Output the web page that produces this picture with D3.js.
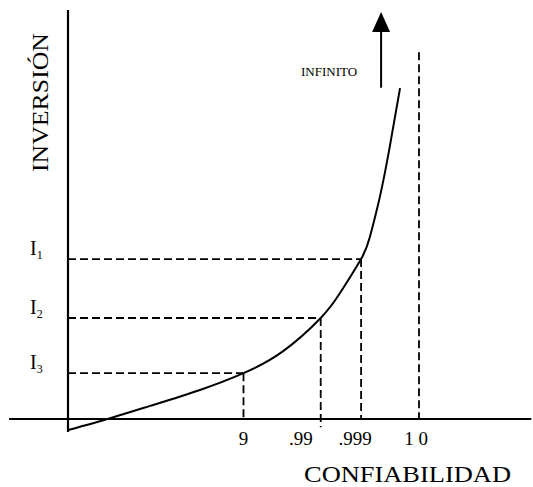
<!DOCTYPE html>
<html>
<head>
<meta charset="utf-8">
<script src="https://cdn.jsdelivr.net/npm/d3@7"></script>
<style>
  html, body { margin: 0; padding: 0; background: #fff; }
  svg { display: block; }
  text { font-family: "Liberation Serif", "Times New Roman", serif; fill: #000; }
</style>
</head>
<body>
<svg id="chart" width="533" height="487"></svg>
<script>
// ---- data ----
const confPos    = [0.5, 0.72, 0.835, 1.0];          // reliability marks along the x axis
const confLabels = ["9", ".99", ".999", "1 0"];
const invValues  = [39.1, 24.7, 11.2];               // I1, I2, I3
const invSubs    = ["1", "2", "3"];
const invConf    = [0.835, 0.72, 0.5];               // reliability reached by each investment
const curveConf  = [0, 0.12, 0.234, 0.376, 0.5, 0.613, 0.72, 0.775, 0.835, 0.86, 0.889, 0.917, 0.946];
const curveInv   = [-2.7, 0.2, 3.2, 7.1, 11.2, 16.6, 24.7, 30.8, 39.1, 44.5, 54.5, 66.7, 80.9];
const arrowConf  = 0.892;
const arrowInv   = [81, 99.5];
const limitInv   = 89.7;   // top of the dashed line at 1.0

// ---- layout ----
const svg = d3.select("#chart");
const x = d3.scaleLinear().domain([0, 1]).range([68, 419]);
const y = d3.scaleLinear().domain([0, 100]).range([419, 10]);
const dash = "8,4";

// axes
svg.append("line").attr("x1", x(-0.168)).attr("x2", x(1.32)).attr("y1", y(0)).attr("y2", y(0))
  .attr("stroke", "#000").attr("stroke-width", 2);
svg.append("line").attr("x1", x(0)).attr("x2", x(0)).attr("y1", y(100)).attr("y2", y(-3.2))
  .attr("stroke", "#000").attr("stroke-width", 2.2);

// dashed guides
const g = svg.append("g").attr("stroke", "#000").attr("stroke-width", 1.8).attr("stroke-dasharray", dash).attr("fill", "none");
invValues.forEach((v, i) => {
  g.append("line").attr("x1", x(0)).attr("x2", x(invConf[i])).attr("y1", y(v)).attr("y2", y(v));
  g.append("line").attr("x1", x(invConf[i])).attr("x2", x(invConf[i])).attr("y1", y(v)).attr("y2", y(i === 1 ? -2 : 0));
});
g.append("line").attr("x1", x(1)).attr("x2", x(1)).attr("y1", y(limitInv)).attr("y2", y(0));

// curve
const pts = curveConf.map((c, i) => [c, curveInv[i]]);
svg.append("path")
  .attr("d", d3.line().x(d => x(d[0])).y(d => y(d[1])).curve(d3.curveNatural)(pts))
  .attr("fill", "none").attr("stroke", "#000").attr("stroke-width", 2);

// arrow
const ax = x(arrowConf);
const headBase = y(arrowInv[1]) + 20;
svg.append("line").attr("x1", ax).attr("x2", ax).attr("y1", y(arrowInv[0])).attr("y2", headBase)
  .attr("stroke", "#000").attr("stroke-width", 2);
svg.append("path")
  .attr("d", `M${ax},${y(arrowInv[1])} L${ax - 9},${headBase} L${ax + 9},${headBase} Z`)
  .attr("fill", "#000");

svg.append("text").attr("x", ax - 24).attr("y", 76).attr("text-anchor", "end")
  .attr("font-size", 13)
  .text("INFINITO");

// x tick labels
const tickDx = [0, -8, -6, -3];
const tickAnchor = ["middle", "end", "middle", "middle"];
confPos.forEach((p, i) => {
  svg.append("text").attr("x", x(p) + tickDx[i]).attr("y", 445)
    .attr("text-anchor", tickAnchor[i]).attr("font-size", 19).text(confLabels[i]);
});

// I labels
invValues.forEach((v, i) => {
  const t = svg.append("text").attr("x", 30).attr("y", y(v) - 4).attr("font-size", 20);
  t.append("tspan").text("I");
  t.append("tspan").attr("font-size", 12).attr("dy", 4).text(invSubs[i]);
});

// axis titles
svg.append("text").attr("transform", "translate(48,102.5) rotate(-90)")
  .attr("text-anchor", "middle").attr("font-size", 23)
  .attr("textLength", 139).attr("lengthAdjust", "spacingAndGlyphs").text("INVERSIÓN");
svg.append("text").attr("x", 304).attr("y", 482).attr("font-size", 23)
  .attr("textLength", 207).attr("lengthAdjust", "spacingAndGlyphs").text("CONFIABILIDAD");
</script>
</body>
</html>
